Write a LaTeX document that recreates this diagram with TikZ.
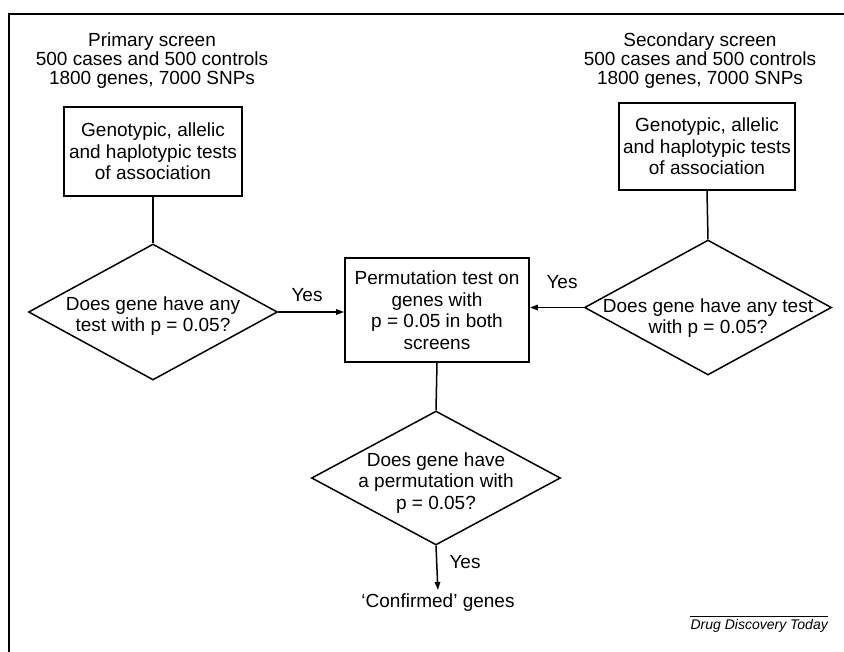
\documentclass[tikz,border=0pt]{standalone}
\usepackage{fontspec}
\setmainfont{Liberation Sans}
\usetikzlibrary{shapes.geometric,arrows.meta}
\begin{document}
\begin{tikzpicture}[x=1pt,y=-1pt,
  txt/.style={font=\fontsize{19}{21.5}\selectfont, align=center, inner sep=0pt},
  hdr/.style={font=\fontsize{19}{19}\selectfont, align=center, inner sep=0pt},
  box/.style={draw, line width=1.8pt, rectangle, inner sep=0pt, align=center, font=\fontsize{19}{21.5}\selectfont},
  dia/.style={draw, diamond, line width=1.5pt, inner sep=0pt},
  con/.style={line width=1.5pt},
  arr/.style={con, -{Triangle[length=8pt,width=5.5pt]}}
]
\useasboundingbox (0,0) rectangle (844,652);
\draw[line width=1.8pt] (844,14) -- (9,14) -- (9,652);

\node[hdr] (h1) at (152,61) {Primary screen\\500 cases and 500 controls\\1800 genes, 7000 SNPs};
\node[hdr] (h2) at (700,61) {Secondary screen\\500 cases and 500 controls\\1800 genes, 7000 SNPs};

\node[box, minimum width=178pt, minimum height=89pt] (b1) at (153,151.5) {Genotypic, allelic\\and haplotypic tests\\of association};
\node[box, minimum width=176pt, minimum height=87pt] (b2) at (707,146.5) {Genotypic, allelic\\and haplotypic tests\\of association};

\node[dia, minimum width=249pt, minimum height=136pt] (d1) at (153,312) {};
\node[txt] (d1t) at (153,316) {Does gene have any\\test with p = 0.05?};
\node[dia, minimum width=247pt, minimum height=135pt] (d2) at (708,307.5) {};
\node[txt] (d2t) at (708,318) {Does gene have any test\\with p = 0.05?};

\node[box, minimum width=184pt, minimum height=104pt] (c) at (437,310) {Permutation test on\\genes with\\p = 0.05 in both\\screens};

\node[dia, minimum width=249pt, minimum height=134pt] (d3) at (436,478) {};
\node[txt] (d3t) at (436,483) {Does gene have\\a permutation with\\p = 0.05?};

\node[txt, inner sep=1pt] (conf) at (438,603) {`Confirmed' genes};

\node[txt] (y1) at (307,295) {Yes};
\node[txt] (y2) at (562,282) {Yes};
\node[txt] (y3) at (465,562) {Yes};

\node[font=\fontsize{14}{16}\selectfont\itshape, anchor=east, inner xsep=0pt, inner ysep=2.5pt] (ddt) at (828,626) {Drug Discovery Today};
\draw[line width=1.2pt] (ddt.north west) -- (ddt.north east);

\draw[con] (b1.south) -- (d1.north);
\draw[con] (b2.south) -- (d2.north);
\draw[con] (c.south) -- (d3.north);
\draw[arr] (d1.east) -- (d1.east -| c.west);
\draw[arr] (d2.west) -- (d2.west -| c.east);
\draw[arr, shorten >=3pt] (d3.south) -- (conf.north);
\end{tikzpicture}
\end{document}
